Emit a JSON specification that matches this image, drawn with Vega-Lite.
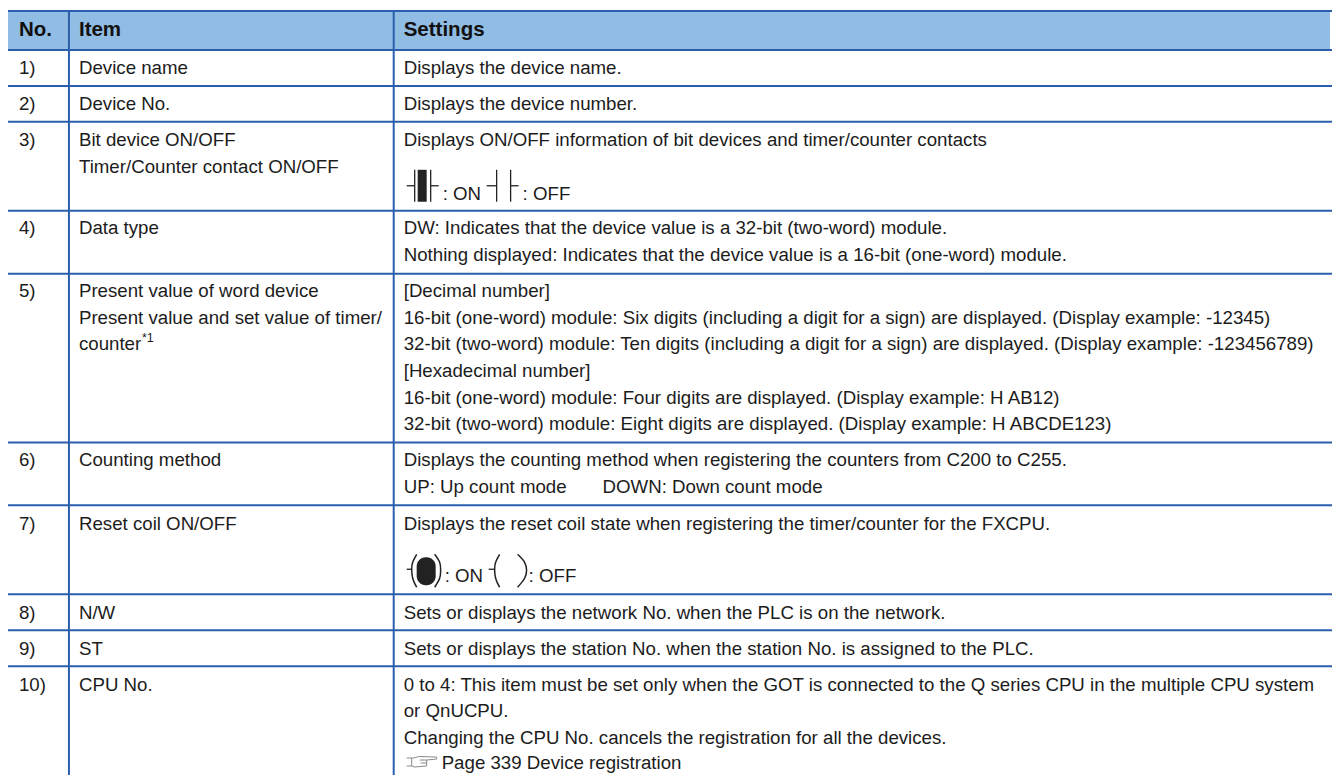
{
"$schema":"https://vega.github.io/schema/vega-lite/v6.json",
"width":1333,"height":776,"padding":0,
"autosize":{"type":"fit","contains":"padding"},
"background":"#ffffff",
"config":{"view":{"stroke":null}},
"datasets":{
"header":[{"x":8,"x2":1331,"y":11,"y2":50}],
"hlines":[{"x":8,"x2":1333,"y":11},{"x":8,"x2":1333,"y":50},{"x":8,"x2":1333,"y":86},{"x":8,"x2":1333,"y":122},{"x":8,"x2":1333,"y":211},{"x":8,"x2":1333,"y":274},{"x":8,"x2":1333,"y":443},{"x":8,"x2":1333,"y":506},{"x":8,"x2":1333,"y":595},{"x":8,"x2":1333,"y":631},{"x":8,"x2":1333,"y":667}],
"vlines":[{"x":69,"y":11,"y2":776},{"x":394,"y":11,"y2":776}],
"heads":[{"x":19,"y":36,"t":"No."},{"x":79,"y":36,"t":"Item"},{"x":404,"y":36,"t":"Settings"}],
"body":[
{"x":19,"y":74,"t":"1)"},{"x":79,"y":74,"t":"Device name"},{"x":404,"y":74,"t":"Displays the device name."},
{"x":19,"y":110,"t":"2)"},{"x":79,"y":110,"t":"Device No."},{"x":404,"y":110,"t":"Displays the device number."},
{"x":19,"y":146,"t":"3)"},{"x":79,"y":146,"t":"Bit device ON/OFF"},{"x":79,"y":173,"t":"Timer/Counter contact ON/OFF"},{"x":404,"y":146,"t":"Displays ON/OFF information of bit devices and timer/counter contacts"},
{"x":443,"y":200,"t":": ON"},{"x":523,"y":200,"t":": OFF"},
{"x":19,"y":234.5,"t":"4)"},{"x":79,"y":234.5,"t":"Data type"},{"x":404,"y":234.5,"t":"DW: Indicates that the device value is a 32-bit (two-word) module."},{"x":404,"y":261,"t":"Nothing displayed: Indicates that the device value is a 16-bit (one-word) module."},
{"x":19,"y":297,"t":"5)"},{"x":79,"y":297,"t":"Present value of word device"},{"x":79,"y":324,"t":"Present value and set value of timer/"},{"x":79,"y":350,"t":"counter"},
{"x":404,"y":297,"t":"[Decimal number]"},{"x":404,"y":324,"t":"16-bit (one-word) module: Six digits (including a digit for a sign) are displayed. (Display example: -12345)"},{"x":404,"y":350,"t":"32-bit (two-word) module: Ten digits (including a digit for a sign) are displayed. (Display example: -123456789)"},{"x":404,"y":377,"t":"[Hexadecimal number]"},{"x":404,"y":405,"t":"16-bit (one-word) module: Four digits are displayed. (Display example: H AB12)"},{"x":404,"y":431,"t":"32-bit (two-word) module: Eight digits are displayed. (Display example: H ABCDE123)"},
{"x":19,"y":467,"t":"6)"},{"x":79,"y":467,"t":"Counting method"},{"x":404,"y":467,"t":"Displays the counting method when registering the counters from C200 to C255."},{"x":404,"y":494,"t":"UP: Up count mode"},{"x":603,"y":494,"t":"DOWN: Down count mode"},
{"x":19,"y":531,"t":"7)"},{"x":79,"y":531,"t":"Reset coil ON/OFF"},{"x":404,"y":531,"t":"Displays the reset coil state when registering the timer/counter for the FXCPU."},
{"x":445,"y":583,"t":": ON"},{"x":529,"y":583,"t":": OFF"},
{"x":19,"y":620,"t":"8)"},{"x":79,"y":620,"t":"N/W"},{"x":404,"y":620,"t":"Sets or displays the network No. when the PLC is on the network."},
{"x":19,"y":656,"t":"9)"},{"x":79,"y":656,"t":"ST"},{"x":404,"y":656,"t":"Sets or displays the station No. when the station No. is assigned to the PLC."},
{"x":19,"y":692,"t":"10)"},{"x":79,"y":692,"t":"CPU No."},{"x":404,"y":692,"t":"0 to 4: This item must be set only when the GOT is connected to the Q series CPU in the multiple CPU system"},{"x":404,"y":718,"t":"or QnUCPU."},{"x":404,"y":745,"t":"Changing the CPU No. cancels the registration for all the devices."},{"x":442,"y":770,"t":"Page 339 Device registration"}
],
"sup":[{"x":142,"y":342,"t":"*1"}],
"iconH":[{"x":407,"x2":415,"y":186},{"x":431,"x2":439,"y":186},{"x":487,"x2":497,"y":186},{"x":511,"x2":519,"y":186},{"x":407,"x2":412,"y":570},{"x":489,"x2":495,"y":570}],
"iconV":[{"x":415,"y":170,"y2":202},{"x":431,"y":170,"y2":202},{"x":497,"y":170,"y2":202},{"x":511,"y":170,"y2":202}],
"blocks":[{"x":418,"x2":427,"y":170,"y2":202}],
"coilFill":[{"x":417,"x2":436,"y":558,"y2":586}],
"coilCurve":[
{"c":"a","o":1,"x":417,"y":555},{"c":"a","o":2,"x":413,"y":563},{"c":"a","o":3,"x":412,"y":570},{"c":"a","o":4,"x":413,"y":579},{"c":"a","o":5,"x":417,"y":588},
{"c":"b","o":1,"x":435,"y":555},{"c":"b","o":2,"x":440,"y":563},{"c":"b","o":3,"x":441,"y":571},{"c":"b","o":4,"x":440,"y":579},{"c":"b","o":5,"x":435,"y":588},
{"c":"c","o":1,"x":500,"y":555},{"c":"c","o":2,"x":496,"y":563},{"c":"c","o":3,"x":495,"y":570},{"c":"c","o":4,"x":496,"y":579},{"c":"c","o":5,"x":500,"y":588},
{"c":"d","o":1,"x":518,"y":555},{"c":"d","o":2,"x":525,"y":563},{"c":"d","o":3,"x":527,"y":571},{"c":"d","o":4,"x":525,"y":579},{"c":"d","o":5,"x":518,"y":588}
],
"handLines":[
{"c":"hand","o":1,"x":407,"y":759},{"c":"hand","o":2,"x":414,"y":759},{"c":"hand","o":3,"x":419,"y":757.5},{"c":"hand","o":4,"x":437,"y":758},{"c":"hand","o":5,"x":437,"y":760},{"c":"hand","o":6,"x":427,"y":761},{"c":"hand","o":7,"x":427,"y":767},{"c":"hand","o":8,"x":415,"y":768},{"c":"hand","o":9,"x":412,"y":767},{"c":"hand","o":10,"x":407,"y":767},
{"c":"cuff","o":1,"x":412,"y":759},{"c":"cuff","o":2,"x":412,"y":767},
{"c":"f1","o":1,"x":420,"y":761},{"c":"f1","o":2,"x":427,"y":761},
{"c":"f2","o":1,"x":421,"y":764},{"c":"f2","o":2,"x":427,"y":764}
]
},
"encoding":{
"x":{"field":"x","type":"quantitative","axis":null,"scale":{"domain":[0,1333],"nice":false,"zero":false}},
"y":{"field":"y","type":"quantitative","axis":null,"scale":{"domain":[0,776],"nice":false,"zero":false,"reverse":true}}
},
"layer":[
{"data":{"name":"header"},"mark":{"type":"rect","color":"#91bce3"},"encoding":{"x2":{"field":"x2"},"y2":{"field":"y2"}}},
{"data":{"name":"hlines"},"mark":{"type":"rule","color":"#2b5fae","strokeWidth":2},"encoding":{"x2":{"field":"x2"}}},
{"data":{"name":"vlines"},"mark":{"type":"rule","color":"#2b5fae","strokeWidth":2},"encoding":{"y2":{"field":"y2"}}},
{"data":{"name":"heads"},"mark":{"type":"text","align":"left","baseline":"alphabetic","font":"Liberation Sans","fontWeight":"bold","fontSize":20.5,"color":"#111111"},"encoding":{"text":{"field":"t"}}},
{"data":{"name":"body"},"mark":{"type":"text","align":"left","baseline":"alphabetic","font":"Liberation Sans","fontSize":18.68,"color":"#1c1c1c"},"encoding":{"text":{"field":"t"}}},
{"data":{"name":"sup"},"mark":{"type":"text","align":"left","baseline":"alphabetic","font":"Liberation Sans","fontSize":12.5,"color":"#1c1c1c"},"encoding":{"text":{"field":"t"}}},
{"data":{"name":"iconH"},"mark":{"type":"rule","color":"#222222","strokeWidth":1.3},"encoding":{"x2":{"field":"x2"}}},
{"data":{"name":"iconV"},"mark":{"type":"rule","color":"#222222","strokeWidth":1.3},"encoding":{"y2":{"field":"y2"}}},
{"data":{"name":"blocks"},"mark":{"type":"rect","color":"#222222"},"encoding":{"x2":{"field":"x2"},"y2":{"field":"y2"}}},
{"data":{"name":"coilFill"},"mark":{"type":"rect","color":"#222222","cornerRadius":9},"encoding":{"x2":{"field":"x2"},"y2":{"field":"y2"}}},
{"data":{"name":"coilCurve"},"mark":{"type":"line","color":"#222222","strokeWidth":1.5,"interpolate":"cardinal"},"encoding":{"detail":{"field":"c"},"order":{"field":"o","type":"ordinal"}}},
{"data":{"name":"handLines"},"mark":{"type":"line","color":"#8a8a8a","strokeWidth":1},"encoding":{"detail":{"field":"c"},"order":{"field":"o","type":"ordinal"}}}
]
}
